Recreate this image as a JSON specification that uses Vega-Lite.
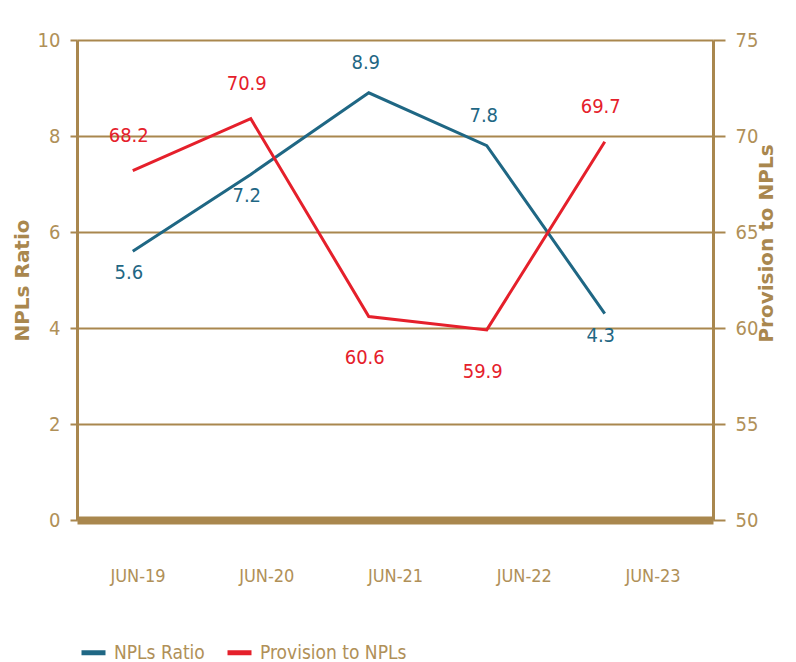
{
  "$schema": "https://vega.github.io/schema/vega-lite/v6.json",
  "width": 636,
  "height": 480,
  "autosize": {"type": "none"},
  "padding": {"left": 77, "top": 40, "right": 83, "bottom": 142},
  "background": "white",
  "config": {"view": {"stroke": null}, "font": "DejaVu Sans Condensed, Roboto Condensed, Roboto, sans-serif"},
  "data": {
    "values": [
      {"date": "JUN-19", "npl": 5.6, "prov": 68.2},
      {"date": "JUN-20", "npl": 7.2, "prov": 70.9},
      {"date": "JUN-21", "npl": 8.9, "prov": 60.6},
      {"date": "JUN-22", "npl": 7.8, "prov": 59.9},
      {"date": "JUN-23", "npl": 4.3, "prov": 69.7}
    ]
  },
  "layer": [
    {
      "mark": {"type": "point", "opacity": 0},
      "encoding": {
        "x": {
          "field": "date",
          "type": "ordinal",
          "scale": {"type": "point", "padding": 0.47},
          "axis": {
            "title": null,
            "orient": "bottom",
            "domainColor": "#a9874e",
            "domainWidth": 8,
            "ticks": false,
            "grid": false,
            "labelPadding": 47,
            "labelFont": "DejaVu Sans Condensed, Roboto Condensed, Roboto, sans-serif",
            "labelFontSize": 18,
            "labelColor": "#b09058",
            "labelAngle": 0
          }
        }
      }
    },
    {
      "encoding": {
        "x": {
          "field": "date",
          "type": "ordinal",
          "scale": {"type": "point", "padding": 0.695, "align": 0.34},
          "axis": null
        },
        "y": {
          "field": "npl",
          "type": "quantitative",
          "scale": {"domain": [0, 10]},
          "axis": {
            "orient": "left",
            "values": [0, 2, 4, 6, 8, 10],
            "grid": true,
            "gridColor": "#a9874e",
            "gridWidth": 2,
            "domainColor": "#a9874e",
            "domainWidth": 3,
            "tickColor": "#a9874e",
            "tickWidth": 2,
            "tickSize": 7,
            "labelPadding": 10,
            "labelFont": "DejaVu Sans Condensed, Roboto Condensed, Roboto, sans-serif",
            "labelFontSize": 20,
            "labelColor": "#b09058",
            "title": "NPLs Ratio",
            "titleFont": "DejaVu Sans",
            "titleFontWeight": "bold",
            "titleFontSize": 20,
            "titleColor": "#a9874e",
            "titleAngle": -90,
            "titleX": -55,
            "titleY": 240,
            "titleAlign": "center",
            "titleBaseline": "middle"
          }
        }
      },
      "layer": [
        {
          "mark": {"type": "line", "strokeWidth": 3},
          "encoding": {
            "color": {
              "datum": "NPLs Ratio",
              "type": "nominal",
              "scale": {"domain": ["NPLs Ratio", "Provision to NPLs"], "range": ["#1f6784", "#e5202b"]},
              "legend": {
                "title": null,
                "orient": "none",
                "legendX": 2,
                "legendY": 598,
                "direction": "horizontal",
                "symbolType": "stroke",
                "symbolSize": 576,
                "symbolStrokeWidth": 5,
                "labelFont": "DejaVu Sans Condensed, Roboto Condensed, Roboto, sans-serif",
                "labelFontSize": 19,
                "labelColor": "#b09058",
                "labelOffset": 6,
                "columnPadding": 12
              }
            }
          }
        },
        {
          "transform": [{"filter": "datum.date == 'JUN-21' || datum.date == 'JUN-22'"}],
          "mark": {"type": "text", "dy": -30, "dx": -3, "fontSize": 20, "color": "#1f6784", "baseline": "middle"},
          "encoding": {"text": {"field": "npl", "type": "quantitative", "format": ".1f"}}
        },
        {
          "transform": [{"filter": "datum.date != 'JUN-21' && datum.date != 'JUN-22'"}],
          "mark": {"type": "text", "dy": 22, "dx": -4, "fontSize": 20, "color": "#1f6784", "baseline": "middle"},
          "encoding": {"text": {"field": "npl", "type": "quantitative", "format": ".1f"}}
        }
      ]
    },
    {
      "encoding": {
        "x": {
          "field": "date",
          "type": "ordinal",
          "scale": {"type": "point", "padding": 0.695, "align": 0.34},
          "axis": null
        },
        "y": {
          "field": "prov",
          "type": "quantitative",
          "scale": {"domain": [50, 75]},
          "axis": {
            "orient": "right",
            "values": [50, 55, 60, 65, 70, 75],
            "grid": false,
            "domainColor": "#a9874e",
            "domainWidth": 3,
            "tickColor": "#a9874e",
            "tickWidth": 2,
            "tickSize": 12,
            "labelPadding": 10,
            "labelFont": "DejaVu Sans Condensed, Roboto Condensed, Roboto, sans-serif",
            "labelFontSize": 20,
            "labelColor": "#b09058",
            "title": "Provision to NPLs",
            "titleFont": "DejaVu Sans",
            "titleFontWeight": "bold",
            "titleFontSize": 20,
            "titleColor": "#a9874e",
            "titleAngle": -90,
            "titleX": 53,
            "titleY": 203,
            "titleAlign": "center",
            "titleBaseline": "middle"
          }
        }
      },
      "layer": [
        {
          "mark": {"type": "line", "strokeWidth": 3},
          "encoding": {"color": {"datum": "Provision to NPLs", "type": "nominal"}}
        },
        {
          "transform": [{"filter": "datum.date != 'JUN-21' && datum.date != 'JUN-22'"}],
          "mark": {"type": "text", "dy": -35, "dx": -4, "fontSize": 20, "color": "#e5202b", "baseline": "middle"},
          "encoding": {"text": {"field": "prov", "type": "quantitative", "format": ".1f"}}
        },
        {
          "transform": [{"filter": "datum.date == 'JUN-21' || datum.date == 'JUN-22'"}],
          "mark": {"type": "text", "dy": 42, "dx": -4, "fontSize": 20, "color": "#e5202b", "baseline": "middle"},
          "encoding": {"text": {"field": "prov", "type": "quantitative", "format": ".1f"}}
        }
      ]
    }
  ],
  "resolve": {"scale": {"x": "independent", "y": "independent"}}
}
